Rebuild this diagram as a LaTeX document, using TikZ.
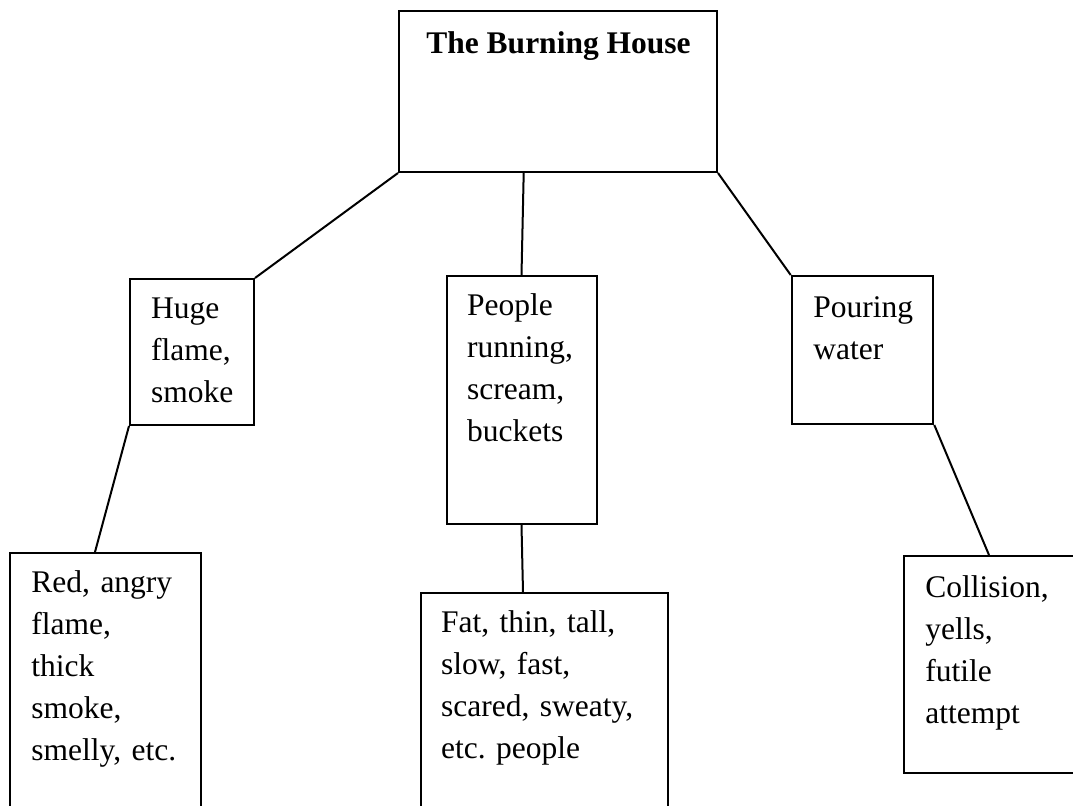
\documentclass[tikz,border=0pt]{standalone}
\usepackage{fontspec}
\setmainfont{Liberation Serif}
\usetikzlibrary{fit}
\frenchspacing
\begin{document}
\begin{tikzpicture}[x=0.5pt,y=-0.5pt,
  box/.style={draw=black, line width=1pt, inner sep=0pt, rectangle},
  txt/.style={anchor=base west, inner sep=0pt, text width=110pt, align=left, font=\fontsize{15.75}{21}\selectfont\frenchspacing},
  link/.style={draw=black, line width=1pt}]
\useasboundingbox (0,0) rectangle (1073,805);
\fill[white] (0,0) rectangle (1073,805);
\clip (0,0) rectangle (1073,805);
% boxes
\node[box, fit={(399,11) (717,172)}] (top) {};
\node[box, fit={(130,279) (254,425)}] (huge) {};
\node[box, fit={(446.5,276) (596.5,524)}] (people) {};
\node[box, fit={(791.7,276) (933.3,424)}] (pouring) {};
\node[box, fit={(10,553) (201,840)}] (red) {};
\node[box, fit={(421,593) (668,840)}] (fat) {};
\node[box, fit={(903.5,556) (1090,773)}] (collision) {};
% texts
\node[anchor=base, inner sep=0pt, font=\bfseries\fontsize{15.75}{21}\selectfont] (title) at (558.5,53) {The Burning House};
\node[txt] (hugeT) at (150.7,318) {Huge\\flame,\\smoke};
\node[txt] (peopleT) at (466.7,315) {People\\running,\\scream,\\buckets};
\node[txt] (pouringT) at (813,317) {Pouring\\water};
\node[txt] (redT) at (31,592.7) {Red, angry\\flame,\\thick\\smoke,\\smelly, etc.};
\node[txt] (fatT) at (440.7,632.7) {Fat, thin, tall,\\slow, fast,\\scared, sweaty,\\etc. people};
\node[txt] (collisionT) at (925,597) {Collision,\\yells,\\futile\\attempt};
% connector end points
\coordinate (topmid) at ([xshift=62.85pt]top.south west);
\coordinate (redtop) at ([xshift=43pt]red.north west);
\coordinate (fattop) at ([xshift=51.5pt]fat.north west);
\coordinate (coltop) at ([xshift=43.25pt]collision.north west);
% connectors
\draw[link] (top.south west) -- (huge.north east);
\draw[link] (topmid) -- (people.north);
\draw[link] (top.south east) -- (pouring.north west);
\draw[link] (huge.south west) -- (redtop);
\draw[link] (people.south) -- (fattop);
\draw[link] (pouring.south east) -- (coltop);
\end{tikzpicture}
\end{document}
